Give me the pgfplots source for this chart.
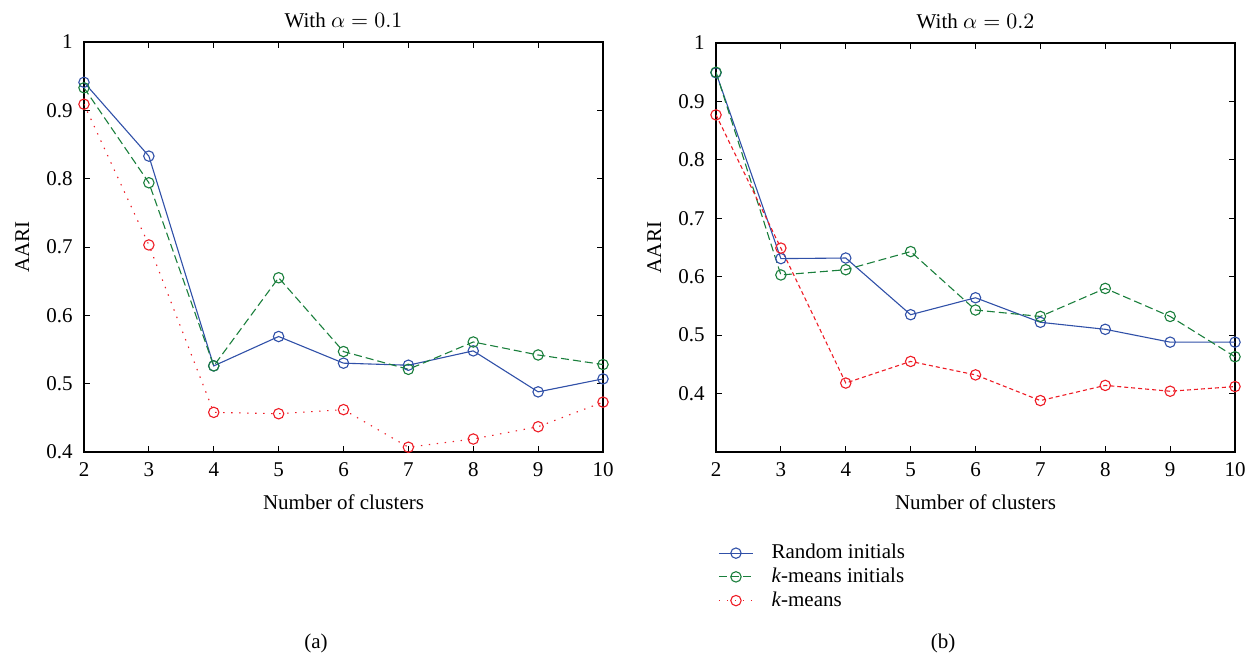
\documentclass[border=0pt]{standalone}
\usepackage{fontspec}
\setmainfont{Liberation Serif}
\usepackage{pgfplots}
\pgfplotsset{compat=1.18}
\definecolor{rinit}{HTML}{3050A8}
\definecolor{kinit}{HTML}{1A7F3C}
\definecolor{kmean}{HTML}{EE1C25}

\pgfplotsset{
  aaristyle/.style={
    scale only axis,
    width=259.5pt,
    xmin=2, xmax=10,
    ymax=1,
    enlargelimits=false,
    xtick={2,...,10},
    ytick={0.4,0.5,...,1.0},
    major tick length=3pt,
    tick style={black, line width=0.5pt},
    axis line style={black, line width=0.6pt},
    /pgf/number format/assume math mode=true,
    xticklabel style={yshift=-1.5pt},
    yticklabel style={xshift=-2pt},
    xlabel={Number of clusters},
    ylabel={AARI},
    xlabel style={at={(axis description cs:0.5,-0.122)}, anchor=center},
    ylabel style={at={(axis description cs:-0.119,0.5)}, anchor=center},
    title style={at={(axis description cs:0.5,1.024)}, anchor=center},
    every axis plot/.append style={line width=0.55pt, mark=o, mark size=2.6pt},
  },
}

\begin{document}
\fontsize{10.5}{12.5}\selectfont
\begin{tikzpicture}
\useasboundingbox (0,0) rectangle (622.5pt,326.5pt);

% (a)
\begin{axis}[aaristyle, at={(42pt,100.5pt)}, anchor=south west,
  height=205pt, ymin=0.4,
  title={With $\alpha = 0.1$}]
\addplot[rinit, mark options={solid}] coordinates {
  (2,0.941) (3,0.833) (4,0.526) (5,0.569) (6,0.530) (7,0.527) (8,0.548) (9,0.488) (10,0.507)
};
\addplot[kinit, dash pattern=on 4pt off 2pt, mark options={solid}] coordinates {
  (2,0.933) (3,0.794) (4,0.526) (5,0.655) (6,0.547) (7,0.521) (8,0.561) (9,0.542) (10,0.528)
};
\addplot[kmean, dash pattern=on 0.7pt off 3.3pt, mark options={solid}] coordinates {
  (2,0.909) (3,0.703) (4,0.458) (5,0.456) (6,0.462) (7,0.407) (8,0.419) (9,0.437) (10,0.473)
};
\end{axis}

% (b)
\begin{axis}[aaristyle, at={(358pt,100.5pt)}, anchor=south west,
  height=204.5pt, ymin=0.3,
  title={With $\alpha = 0.2$},
  legend cell align=left,
  legend style={at={(axis description cs:0.0,-0.21)}, anchor=north west,
    draw=none, fill=none, row sep=-1pt, inner sep=1pt,
    /tikz/every odd column/.append style={column sep=7pt}},
  legend image code/.code={
    \draw[#1] (0pt,0pt) -- (17pt,0pt);
    \draw[#1, solid] plot coordinates {(8.5pt,0pt)};
  }]
\addlegendimage{rinit, line width=0.55pt, mark=o, mark size=2.6pt}
\addlegendentry{Random initials}
\addlegendimage{kinit, line width=0.55pt, dash pattern=on 4pt off 2pt, mark=o, mark size=2.6pt}
\addlegendentry{\textit{k}-means initials}
\addlegendimage{kmean, line width=0.55pt, dash pattern=on 0.7pt off 3.3pt, mark=o, mark size=2.6pt}
\addlegendentry{\textit{k}-means}
\addplot[rinit, mark options={solid}, forget plot] coordinates {
  (2,0.949) (3,0.631) (4,0.632) (5,0.535) (6,0.564) (7,0.522) (8,0.510) (9,0.488) (10,0.488)
};
\addplot[kinit, dash pattern=on 4pt off 2pt, mark options={solid}, forget plot] coordinates {
  (2,0.950) (3,0.603) (4,0.612) (5,0.643) (6,0.543) (7,0.532) (8,0.580) (9,0.532) (10,0.463)
};
\addplot[kmean, dash pattern=on 2pt off 1.5pt, mark options={solid}, forget plot] coordinates {
  (2,0.877) (3,0.649) (4,0.418) (5,0.455) (6,0.432) (7,0.388) (8,0.414) (9,0.404) (10,0.412)
};
\end{axis}

\node at (158pt,5pt) {(a)};
\node at (471.5pt,5pt) {(b)};
\end{tikzpicture}
\end{document}
